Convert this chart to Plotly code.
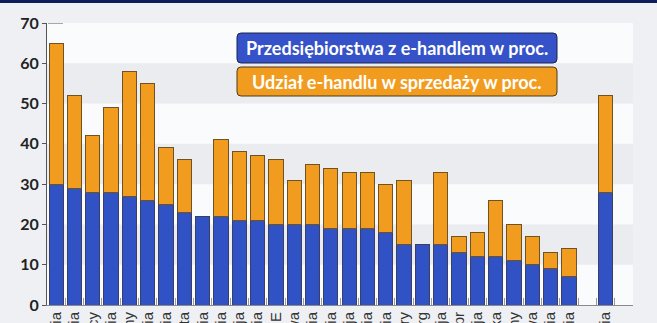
import plotly.graph_objects as go

# Kraje (etykiety osi X); puste pozycje rozdzielają grupy słupków
kraje = [
    "Irlandia", "Dania", "Niemcy", "Belgia", "Czechy", "Holandia", "Finlandia",
    "Malta", "Islandia", "Wielka Brytania", "Szwecja", "Austria", "UE", "Litwa",
    "Estonia", "Słowenia", "Francja", "Hiszpania", "Portugalia", "Węgry",
    "Luksemburg", "Chorwacja", "Cypr", "Słowacja", "Polska", "Włochy", "Łotwa",
    "Bułgaria", "Rumunia", " ", "Norwegia", "  ",
]

# Przedsiębiorstwa z e-handlem (%)
przedsiebiorstwa = [
    30, 29, 28, 28, 27, 26, 25, 23, 22, 22, 21, 21, 20, 20, 20, 19, 19, 19, 18,
    15, 15, 15, 13, 12, 12, 11, 10, 9, 7, None, 28, None,
]

# Udział e-handlu w sprzedaży (%)
udzial = [
    35, 23, 14, 21, 31, 29, 14, 13, None, 19, 17, 16, 16, 11, 15, 15, 14, 14, 12,
    16, None, 18, 4, 6, 14, 9, 7, 4, 7, None, 24, None,
]

y_ticks = [0, 10, 20, 30, 40, 50, 60, 70]

W, H = 657, 323
PL, PR, PT, PB = 47, 633, 23, 305


def px(x):
    return (x - PL) / (PR - PL)


def py(y):
    return (PB - y) / (PB - PT)


def rounded_rect(x0, y0, x1, y1, r):
    rx = r / (PR - PL)
    ry = r / (PB - PT)
    a, b, c, d = px(x0), px(x1), py(y1), py(y0)
    return (
        f"M {a + rx},{c} L {b - rx},{c} Q {b},{c} {b},{c + ry} "
        f"L {b},{d - ry} Q {b},{d} {b - rx},{d} L {a + rx},{d} "
        f"Q {a},{d} {a},{d - ry} L {a},{c + ry} Q {a},{c} {a + rx},{c} Z"
    )


BLUE = "#3152c4"
ORANGE = "#f29c1f"

fig = go.Figure()
fig.add_trace(go.Bar(
    x=kraje, y=przedsiebiorstwa, name="Przedsiębiorstwa z e-handlem w proc.",
    marker=dict(color=BLUE, line=dict(color="#3b3f66", width=1)),
))
fig.add_trace(go.Bar(
    x=kraje, y=udzial, name="Udział e-handlu w sprzedaży w proc.",
    marker=dict(color=ORANGE, line=dict(color="#6e5424", width=1)),
))

shapes = []
# naprzemienne pasy tła
for lo in range(10, 70, 20):
    shapes.append(dict(type="rect", xref="paper", yref="y", x0=0, x1=1,
                       y0=lo, y1=lo + 10, fillcolor="#eaecf0",
                       line=dict(width=0), layer="below"))
# granatowy pasek u góry
shapes.append(dict(type="rect", xref="paper", yref="paper",
                   x0=px(0), x1=px(W), y0=py(3), y1=py(-2),
                   fillcolor="#0f1c5c", line=dict(width=0), layer="above"))
# krótka kreska przy wartości 70
shapes.append(dict(type="line", xref="paper", yref="y",
                   x0=px(48), x1=px(63), y0=70, y1=70,
                   line=dict(color="#555555", width=1)))
# pola legendy
shapes.append(dict(type="path", xref="paper", yref="paper",
                   path=rounded_rect(237, 33, 557, 63, 4),
                   fillcolor="#3552c8", line=dict(color="#1e2350", width=1)))
shapes.append(dict(type="path", xref="paper", yref="paper",
                   path=rounded_rect(237, 67, 557, 96, 4),
                   fillcolor=ORANGE, line=dict(color="#4a3a1c", width=1)))

annotations = [
    dict(xref="paper", yref="paper", x=px(397), y=py(48),
         text="<b>Przedsiębiorstwa z e-handlem w proc.</b>", showarrow=False,
         font=dict(family="Lato", size=18, color="white"),
         xanchor="center", yanchor="middle"),
    dict(xref="paper", yref="paper", x=px(397), y=py(81.5),
         text="<b>Udział e-handlu w sprzedaży w proc.</b>", showarrow=False,
         font=dict(family="Lato", size=18, color="white"),
         xanchor="center", yanchor="middle"),
]

fig.update_layout(
    width=W, height=H,
    margin=dict(l=PL, r=W - PR, t=PT, b=H - PB, pad=0),
    barmode="stack", bargap=0.22, showlegend=False,
    paper_bgcolor="#eef0f4", plot_bgcolor="#fafbfc",
    shapes=shapes, annotations=annotations,
    xaxis=dict(
        type="category", categoryorder="array", categoryarray=kraje,
        range=[-0.5, len(kraje) - 0.5], tickangle=-90,
        ticks="inside", tickson="boundaries", ticklen=7, tickcolor="#9a9a9a",
        showline=True, linecolor="#8a8a8a", linewidth=1,
        showgrid=False, automargin=False,
        tickfont=dict(family="Liberation Sans", size=15, color="#333333"),
    ),
    yaxis=dict(
        range=[0, 70], tickvals=y_ticks, ticks="outside", ticklen=4,
        tickcolor="#555555", showline=True, linecolor="#555555", linewidth=1,
        showgrid=False, zeroline=False, automargin=False,
        tickfont=dict(family="Lato", size=16, color="#222222", weight="bold"),
    ),
)

fig.write_html("out.html")
